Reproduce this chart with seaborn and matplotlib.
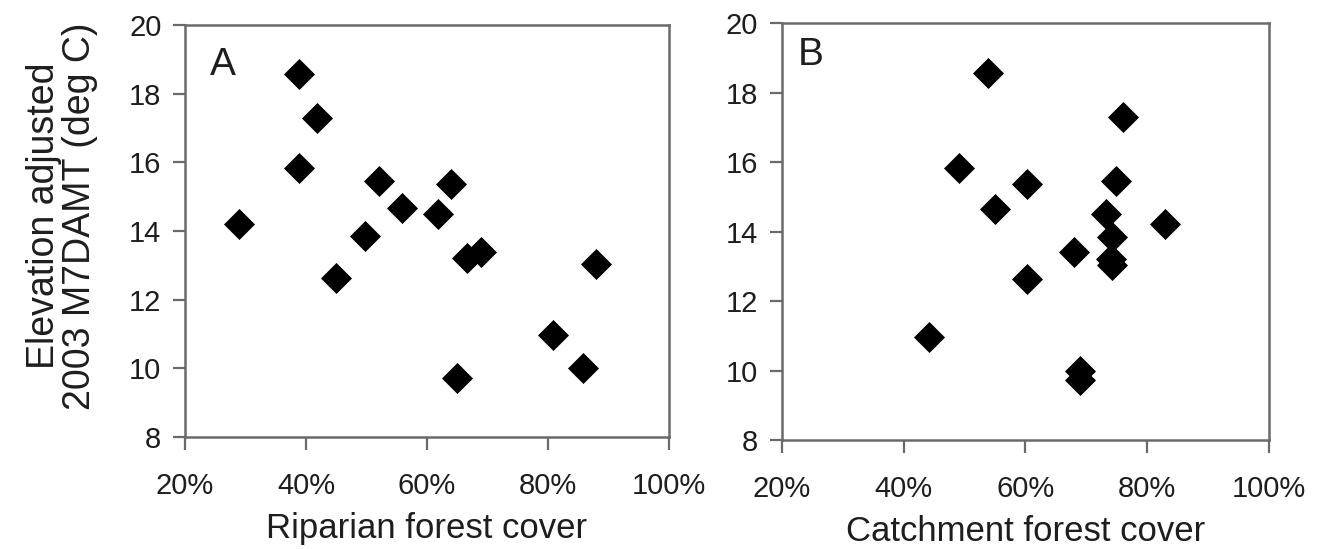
import matplotlib
matplotlib.use("Agg")
import matplotlib.pyplot as plt
import seaborn as sns
import pandas as pd
from matplotlib.ticker import FuncFormatter

# shared y values (elevation adjusted 2003 M7DAMT, deg C)
temperature = [18.57, 17.3, 15.83, 15.46, 15.36, 14.66, 14.5, 14.21, 13.85,
               13.4, 13.21, 13.05, 12.62, 10.97, 10.0, 9.73]
# forest cover (%) per site, same order
riparian_cover = [38.9, 41.8, 38.9, 52.1, 63.9, 55.8, 61.8, 29.0, 49.8,
                  69.0, 66.6, 87.9, 44.9, 80.9, 85.8, 65.0]
catchment_cover = [53.9, 76.1, 49.0, 74.9, 60.2, 55.0, 73.3, 82.9, 74.2,
                   67.9, 74.0, 74.2, 60.2, 44.1, 69.0, 69.0]

panels = ["A", "B"]
xlabels = ["Riparian forest cover", "Catchment forest cover"]
ylabel = "Elevation adjusted\n2003 M7DAMT (deg C)"
xticks = [20, 40, 60, 80, 100]
yticks = [8, 10, 12, 14, 16, 18, 20]

df = pd.DataFrame({"temp": temperature,
                   "riparian": riparian_cover,
                   "catchment": catchment_cover})

sns.set_style("white")
plt.rcParams["font.family"] = ["Liberation Sans", "DejaVu Sans"]

fig = plt.figure(figsize=(13.31, 5.49), dpi=100)
ax_a = fig.add_axes([0.139, 0.204, 0.3636, 0.7505])
ax_b = fig.add_axes([0.5875, 0.1985, 0.3659, 0.7595])

txt_col = "#1e1e1e"
spine_col = "#6a6a6a"
letter_pos = [(0.052, 0.879), (0.033, 0.899)]
for ax, col, letter, xl, pos in zip([ax_a, ax_b], ["riparian", "catchment"],
                                    panels, xlabels, letter_pos):
    sns.scatterplot(data=df, x=col, y="temp", ax=ax, marker="D", s=250,
                    color="black", edgecolor="black", linewidth=0)
    ax.set_xlim(20, 100)
    ax.set_ylim(8, 20)
    ax.set_xticks(xticks)
    ax.set_yticks(yticks)
    ax.xaxis.set_major_formatter(FuncFormatter(lambda v, p: f"{v:.0f}%"))
    ax.tick_params(axis="both", direction="out", length=9, width=1.6,
                   color=spine_col, labelsize=21, labelcolor=txt_col,
                   bottom=True, left=True)
    ax.tick_params(axis="x", pad=16)
    ax.tick_params(axis="y", pad=8)
    for sp in ax.spines.values():
        sp.set_color(spine_col)
        sp.set_linewidth(1.8)
    ax.set_xlabel(xl, fontsize=25, color=txt_col, labelpad=9)
    ax.set_ylabel("")
    ax.text(pos[0], pos[1], letter, transform=ax.transAxes, fontsize=28,
            va="baseline", ha="left", color=txt_col)

ax_a.set_ylabel(ylabel, fontsize=27, color=txt_col, linespacing=1.0)
ax_a.yaxis.set_label_coords(-0.18, 0.536)

fig.savefig("out.png", dpi=100)
